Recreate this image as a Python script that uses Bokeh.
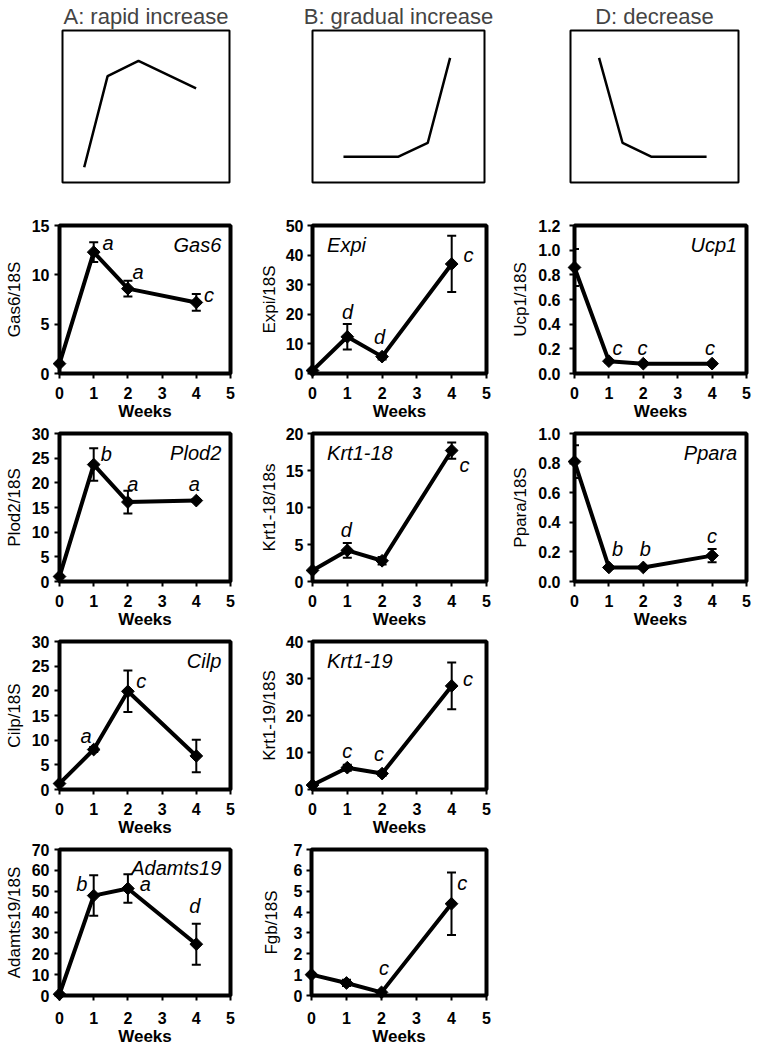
import math
from bokeh.plotting import figure
from bokeh.layouts import column, row
from bokeh.models import (ColumnDataSource, Whisker, TeeHead, FixedTicker,
                          NumeralTickFormatter, Range1d, Spacer)
from bokeh.core.properties import value
from bokeh.embed import file_html
from bokeh.resources import INLINE

FONT = "Liberation Sans"

weeks = [0, 1, 2, 4]
x_ticks = [0, 1, 2, 3, 4, 5]

# ---- schematic trend shapes (fractions of box) ----
schem_titles = ["A: rapid increase", "B: gradual increase", "D: decrease"]
schemA_x = [0.13, 0.27, 0.455, 0.80]
schemA_y = [0.10, 0.70, 0.80, 0.62]
schemB_x = [0.18, 0.50, 0.67, 0.80]
schemB_y = [0.17, 0.17, 0.26, 0.82]
schemD_x = [0.17, 0.31, 0.48, 0.81]
schemD_y = [0.82, 0.26, 0.17, 0.17]

# ---- gene expression data ----
gas6 = [1.0, 12.3, 8.6, 7.2]
gas6_err = [0.1, 1.0, 0.8, 0.85]
gas6_sig = ["a", "a", "c"]

expi = [1.0, 12.4, 5.7, 37.0]
expi_err = [0.3, 4.3, 1.0, 9.5]
expi_sig = ["d", "d", "c"]

ucp1 = [0.86, 0.10, 0.08, 0.08]
ucp1_err = [0.15, 0.01, 0.01, 0.01]
ucp1_sig = ["c", "c", "c"]

plod2 = [1.0, 23.7, 16.1, 16.4]
plod2_err = [0.3, 3.3, 2.3, 0.3]
plod2_sig = ["b", "a", "a"]

krt18 = [1.5, 4.2, 2.8, 17.7]
krt18_err = [0.2, 1.0, 0.5, 1.1]
krt18_sig = ["d", "c"]

ppara = [0.81, 0.095, 0.095, 0.175]
ppara_err = [0.11, 0.01, 0.01, 0.045]
ppara_sig = ["b", "b", "c"]

cilp = [1.2, 8.1, 19.9, 6.8]
cilp_err = [0.3, 0.5, 4.2, 3.3]
cilp_sig = ["a", "c"]

krt19 = [1.2, 5.9, 4.3, 28.0]
krt19_err = [0.3, 0.8, 0.6, 6.3]
krt19_sig = ["c", "c", "c"]

adamts19 = [0.6, 47.9, 51.3, 24.6]
adamts19_err = [0.3, 9.7, 6.8, 9.8]
adamts19_sig = ["b", "a", "d"]

fgb = [1.0, 0.6, 0.15, 4.4]
fgb_err = [0.05, 0.15, 0.05, 1.5]
fgb_sig = ["c", "c"]

# ---- annotation placement (layout only) ----
gas6_sig_pos = [(1.42, 13.2), (2.3, 10.3), (4.37, 8.0)]
expi_sig_pos = [(1.01, 20.8), (1.93, 12.4), (4.48, 40.2)]
ucp1_sig_pos = [(1.25, 0.21), (1.98, 0.21), (3.94, 0.21)]
plod2_sig_pos = [(1.37, 25.9), (2.14, 19.8), (3.94, 19.8)]
krt18_sig_pos = [(0.97, 6.9), (4.37, 15.7)]
ppara_sig_pos = [(1.25, 0.22), (2.06, 0.22), (4.0, 0.31)]
cilp_sig_pos = [(0.78, 10.9), (2.39, 22.0)]
krt19_sig_pos = [(1.0, 10.4), (1.91, 9.5), (4.47, 29.8)]
adamts19_sig_pos = [(0.65, 53.5), (2.51, 53.5), (3.96, 43.0)]
fgb_sig_pos = [(2.07, 1.3), (4.31, 5.4)]

# columns: (cell width, min_border_left, min_border_right, tick standoff, label standoff)
COLS = [(256, 59, 26, 5, 5), (252, 55, 22, 4, 4), (249, 66, 11, 9, 5)]
SCHEM_COLS = [(256, 62, 27), (252, 56, 24), (249, 62, 19)]
ROW_H = [208, 208, 208, 209]
ROW_B = [48, 48, 48, 52]
ROW_XSO = [8, 8, 8, 11]


def schematic(i, xs, ys):
    w, l, r = SCHEM_COLS[i]
    p = figure(width=w, height=215, min_border_left=l, min_border_right=r,
               min_border_top=30, min_border_bottom=33,
               x_range=Range1d(0, 1), y_range=Range1d(0, 1),
               x_axis_type=None, y_axis_type=None,
               output_backend="svg", toolbar_location=None, tools="")
    p.grid.visible = False
    p.outline_line_color = "black"
    p.outline_line_width = 2
    p.title.text = schem_titles[i]
    p.title.align = "center"
    p.title.text_font = FONT
    p.title.text_font_size = "22px"
    p.title.text_font_style = "normal"
    p.title.standoff = 3
    p.line(xs, ys, line_width=2.5, color="black")
    return p


def panel(ci, ri, ylabel, ymax, ystep, fmt, vals, errs, sig, sig_pos, gene, gene_side, extra_ls=0):
    w, l, r, so, ls = COLS[ci]
    p = figure(width=w, height=ROW_H[ri], min_border_left=l, min_border_right=r,
               min_border_top=10, min_border_bottom=ROW_B[ri],
               x_range=Range1d(0, 5), y_range=Range1d(0, ymax),
               output_backend="svg", toolbar_location=None, tools="")
    p.grid.visible = False
    p.outline_line_color = "black"
    p.outline_line_width = 4
    n = int(round(ymax / ystep))
    p.yaxis.ticker = FixedTicker(ticks=[round(k * ystep, 3) for k in range(n + 1)])
    p.xaxis.ticker = FixedTicker(ticks=x_ticks)
    p.yaxis.formatter = NumeralTickFormatter(format=fmt)
    for ax in (p.xaxis[0], p.yaxis[0]):
        ax.axis_line_width = 2
        ax.major_tick_out = 5
        ax.major_tick_in = 0
        ax.major_tick_line_width = 2
        ax.minor_tick_line_color = None
        ax.major_label_text_font = FONT
        ax.major_label_text_font_size = "16px"
        ax.major_label_text_font_style = "bold"
        ax.major_label_text_color = "black"
        ax.axis_label_text_font = FONT
        ax.axis_label_text_color = "black"
    p.xaxis.major_label_standoff = ROW_XSO[ri]
    p.xaxis.axis_label = "Weeks"
    p.xaxis.axis_label_text_font_size = "17px"
    p.xaxis.axis_label_text_font_style = "bold"
    p.xaxis.axis_label_standoff = 0
    p.yaxis.major_label_standoff = so
    p.yaxis.axis_label = ylabel
    p.yaxis.axis_label_text_font_size = "17px"
    p.yaxis.axis_label_text_font_style = "normal"
    p.yaxis.axis_label_standoff = ls + extra_ls

    src = ColumnDataSource(dict(x=weeks, y=vals,
                                upper=[v + e for v, e in zip(vals, errs)],
                                lower=[v - e for v, e in zip(vals, errs)]))
    p.line("x", "y", source=src, line_width=4, color="black")
    wh = Whisker(base="x", upper="upper", lower="lower", source=src,
                 line_width=2, line_color="black",
                 upper_head=TeeHead(size=9, line_width=2, line_color="black"),
                 lower_head=TeeHead(size=9, line_width=2, line_color="black"))
    p.add_layout(wh)
    p.scatter("x", "y", source=src, marker="square", angle=math.pi / 4,
              size=9, color="black", level="overlay")
    p.text(x=[q[0] for q in sig_pos], y=[q[1] for q in sig_pos], text=sig,
           text_font=value(FONT), text_font_style="italic", text_font_size="20px",
           text_align="center", text_baseline="middle", text_color="black")
    if gene:
        gx = 4.73 if gene_side == "right" else 0.42
        p.text(x=[gx], y=[0.87 * ymax], text=[gene],
               text_font=value(FONT), text_font_style="italic", text_font_size="20px",
               text_align=gene_side, text_baseline="middle", text_color="black")
    return p


s0 = schematic(0, schemA_x, schemA_y)
s1 = schematic(1, schemB_x, schemB_y)
s2 = schematic(2, schemD_x, schemD_y)

p_gas6 = panel(0, 0, "Gas6/18S", 15, 5, "0", gas6, gas6_err, gas6_sig, gas6_sig_pos, "Gas6", "right")
p_expi = panel(1, 0, "Expi/18S", 50, 10, "0", expi, expi_err, expi_sig, expi_sig_pos, "Expi", "left")
p_ucp1 = panel(2, 0, "Ucp1/18S", 1.2, 0.2, "0.0", ucp1, ucp1_err, ucp1_sig, ucp1_sig_pos, "Ucp1", "right")

p_plod2 = panel(0, 1, "Plod2/18S", 30, 5, "0", plod2, plod2_err, plod2_sig, plod2_sig_pos, "Plod2", "right")
p_krt18 = panel(1, 1, "Krt1-18/18s", 20, 5, "0", krt18, krt18_err, krt18_sig, krt18_sig_pos, "Krt1-18", "left")
p_ppara = panel(2, 1, "Ppara/18S", 1.0, 0.2, "0.0", ppara, ppara_err, ppara_sig, ppara_sig_pos, "Ppara", "right")

p_cilp = panel(0, 2, "Cilp/18S", 30, 5, "0", cilp, cilp_err, cilp_sig, cilp_sig_pos, "Cilp", "right")
p_krt19 = panel(1, 2, "Krt1-19/18S", 40, 10, "0", krt19, krt19_err, krt19_sig, krt19_sig_pos, "Krt1-19", "left")

p_adam = panel(0, 3, "Adamts19/18S", 70, 10, "0", adamts19, adamts19_err, adamts19_sig, adamts19_sig_pos, "Adamts19", "right")
p_fgb = panel(1, 3, "Fgb/18S", 7, 1, "0", fgb, fgb_err, fgb_sig, fgb_sig_pos, None, "right", extra_ls=6)

layout = column(
    row(s0, s1, s2),
    row(p_gas6, p_expi, p_ucp1),
    row(p_plod2, p_krt18, p_ppara),
    row(p_cilp, p_krt19, Spacer(width=COLS[2][0], height=ROW_H[2])),
    row(p_adam, p_fgb, Spacer(width=COLS[2][0], height=ROW_H[3])),
)

with open("out.html", "w") as f:
    f.write(file_html(layout, INLINE))
